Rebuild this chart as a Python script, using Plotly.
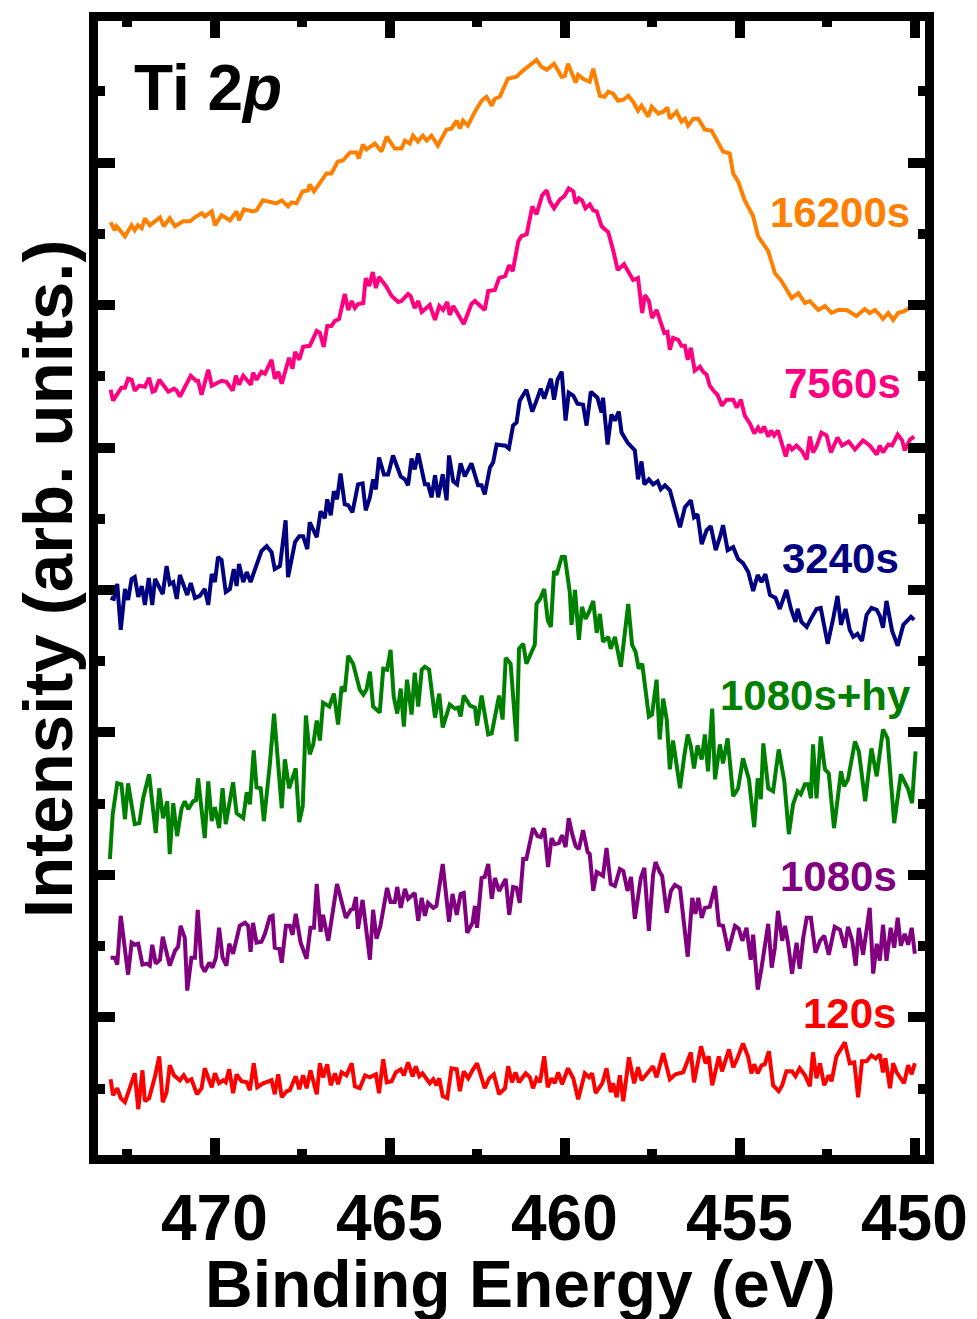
import plotly.graph_objects as go

# ---------------- data (binding energy in eV, intensity in arb. units) ----------------
e_16200 = [472.98,472.86,472.81,472.57,472.38,472.29,472.20,472.09,472.00,471.86,
           471.57,471.46,471.29,471.14,470.91,470.71,470.57,470.38,470.29,470.09,
           470.00,469.81,469.57,469.38,469.31,469.17,468.91,468.81,468.63,468.43,
           468.24,468.09,467.91,467.81,467.67,467.49,467.34,467.29,467.17,466.81,
           466.67,466.49,466.34,466.14,465.95,465.89,465.77,465.67,465.43,465.24,
           465.09,464.86,464.67,464.57,464.43,464.34,464.20,464.06,463.95,463.81,
           463.63,463.38,463.24,463.09,463.00,462.91,462.77,462.57,462.38,462.24,
           462.09,462.00,461.86,461.63,461.38,461.24,461.05,460.81,460.67,460.52,
           460.31,460.09,460.00,459.91,459.69,459.62,459.48,459.29,459.19,459.00,
           458.86,458.76,458.62,458.48,458.33,458.19,458.05,457.91,457.81,457.62,
           457.52,457.33,457.19,457.07,457.00,456.81,456.67,456.57,456.48,456.33,
           456.19,456.00,455.81,455.62,455.48,455.29,455.19,455.05,454.86,454.62,
           454.48,454.19,454.00,453.81,453.52,453.33,453.14,453.00,452.76,452.57,
           452.38,452.19,451.95,451.67,451.43,451.29,451.14,451.00,450.91,450.76,
           450.62,450.48,450.29,450.05]
i_16200 = [941,933,937,927,938,933,938,935,945,938,
           946,937,945,937,942,942,946,950,947,952,
           938,948,943,952,943,954,952,953,963,961,
           960,963,957,961,960,972,973,979,972,990,
           990,1002,1003,1011,1011,1005,1019,1014,1020,1012,
           1027,1015,1015,1023,1020,1028,1022,1028,1023,1028,
           1018,1034,1035,1043,1035,1043,1038,1052,1063,1067,
           1058,1065,1067,1085,1087,1092,1097,1104,1097,1094,
           1100,1087,1088,1100,1081,1089,1085,1082,1095,1068,
           1067,1072,1070,1063,1064,1068,1062,1053,1058,1047,
           1057,1050,1052,1056,1045,1052,1042,1045,1038,1045,
           1045,1034,1033,1022,1012,1010,990,982,963,947,
           927,912,890,882,865,870,860,862,853,857,
           850,853,853,847,854,850,853,848,844,850,
           843,850,852,857]

e_7560 = [472.98,472.91,472.67,472.57,472.48,472.38,472.29,472.16,472.00,471.88,
          471.78,471.71,471.59,471.33,471.17,471.09,471.00,470.69,470.54,470.48,
          470.38,470.19,470.09,469.81,469.67,469.49,469.40,469.31,469.19,468.97,
          468.91,468.81,468.67,468.57,468.38,468.29,468.19,468.09,467.88,467.78,
          467.71,467.59,467.48,467.29,467.09,467.00,466.89,466.79,466.67,466.57,
          466.45,466.29,466.19,466.09,466.00,465.91,465.76,465.69,465.59,465.49,
          465.40,465.31,465.11,464.95,464.76,464.67,464.48,464.41,464.29,464.19,
          464.09,463.86,463.71,463.59,463.48,463.36,463.29,463.19,462.89,462.67,
          462.57,462.29,462.19,462.00,461.88,461.71,461.59,461.49,461.33,461.24,
          461.09,460.93,460.81,460.65,460.52,460.43,460.31,460.14,460.02,459.89,
          459.76,459.69,459.60,459.51,459.41,459.29,459.19,459.09,458.95,458.76,
          458.62,458.49,458.31,458.05,457.91,457.79,457.71,457.60,457.51,457.38,
          457.16,457.07,457.00,456.91,456.76,456.67,456.57,456.49,456.40,456.29,
          456.14,456.05,455.95,455.86,455.73,455.64,455.51,455.38,455.19,455.09,
          454.97,454.86,454.71,454.59,454.48,454.40,454.31,454.19,454.11,454.02,
          453.91,453.81,453.69,453.60,453.51,453.38,453.22,453.09,453.00,452.91,
          452.81,452.67,452.52,452.40,452.21,452.08,451.89,451.71,451.48,451.29,
          451.09,451.00,450.91,450.76,450.65,450.49,450.36,450.29,450.14,450.02]
i_7560 = [773,762,775,775,784,783,772,777,776,785,
          771,772,783,771,774,772,766,787,782,782,
          768,793,777,782,781,772,787,778,787,778,
          790,783,791,789,803,784,791,779,805,794,
          811,803,816,817,832,830,816,837,837,842,
          844,869,853,862,855,859,860,885,877,891,
          875,886,877,867,861,862,869,867,855,862,
          851,858,843,857,853,861,848,857,839,859,
          862,853,872,873,885,887,898,892,922,927,
          929,957,949,968,973,962,955,964,967,975,
          972,960,965,963,955,959,953,952,937,931,
          913,893,899,883,885,850,868,862,845,853,
          830,831,813,825,823,817,817,803,815,792,
          796,791,788,777,771,768,757,763,763,755,
          763,747,739,729,735,730,736,726,732,727,
          732,721,706,718,713,717,711,703,726,710,
          716,730,727,710,725,717,721,713,722,717,
          708,717,710,718,717,728,722,712,723,726]

e_3240 = [472.98,472.89,472.79,472.69,472.57,472.48,472.38,472.29,472.19,472.09,
          472.00,471.89,471.79,471.71,471.49,471.38,471.29,471.19,471.09,471.00,
          470.79,470.69,470.57,470.43,470.29,470.19,470.09,470.00,469.91,469.81,
          469.69,469.57,469.46,469.38,469.31,469.19,469.09,468.98,468.67,468.52,
          468.38,468.29,468.14,467.98,467.91,467.71,467.59,467.48,467.36,467.29,
          467.09,466.98,466.86,466.79,466.69,466.60,466.51,466.41,466.29,466.19,
          466.07,465.91,465.78,465.69,465.57,465.48,465.40,465.31,465.17,465.05,
          464.91,464.69,464.57,464.48,464.38,464.29,464.19,464.00,463.91,463.81,
          463.71,463.62,463.49,463.38,463.31,463.19,463.08,462.98,462.86,462.67,
          462.48,462.38,462.29,462.14,462.05,461.95,461.76,461.71,461.60,461.48,
          461.38,461.29,461.10,460.93,460.78,460.69,460.59,460.40,460.31,460.21,
          460.09,459.98,459.89,459.76,459.64,459.48,459.38,459.26,459.07,458.95,
          458.91,458.78,458.67,458.57,458.46,458.38,458.21,458.00,457.91,457.81,
          457.73,457.60,457.48,457.35,457.26,457.14,457.00,456.86,456.71,456.57,
          456.40,456.31,456.21,456.09,455.95,455.83,455.69,455.57,455.48,455.35,
          455.19,455.05,454.91,454.76,454.62,454.49,454.38,454.27,454.14,453.98,
          453.86,453.67,453.54,453.41,453.35,453.24,453.09,452.97,452.81,452.69,
          452.49,452.33,452.21,452.11,451.98,451.86,451.76,451.64,451.51,451.38,
          451.24,451.09,451.00,450.91,450.81,450.65,450.49,450.33,450.19,450.11,
          450.02]
i_3240 = [564,563,578,532,573,562,583,585,565,576,
          557,584,557,583,568,596,578,580,563,587,
          567,579,564,566,573,557,588,580,605,602,
          570,573,593,576,598,580,590,580,611,616,
          610,593,596,642,585,620,626,626,613,640,
          625,651,644,663,647,671,663,689,658,657,
          650,678,679,652,665,683,673,705,688,688,
          707,686,683,677,704,693,709,678,678,665,
          687,665,688,662,707,681,678,699,686,699,
          677,677,668,695,700,718,717,717,714,737,
          740,762,773,751,765,774,764,784,763,783,
          791,742,770,767,759,758,737,771,765,750,
          765,718,748,742,751,730,720,712,683,701,
          678,683,678,681,673,677,672,655,635,655,
          662,645,648,618,632,636,612,625,637,612,
          615,603,599,590,571,587,580,588,567,564,
          553,572,553,540,553,540,535,543,553,554,
          518,544,566,537,553,532,525,528,521,547,
          554,552,546,534,561,531,516,537,542,545,
          542]

e_1080hy = [473.00,472.92,472.79,472.67,472.57,472.48,472.29,472.16,472.05,471.88,
            471.69,471.59,471.48,471.36,471.29,471.19,471.08,470.95,470.86,470.76,
            470.62,470.54,470.48,470.29,470.19,470.09,470.00,469.88,469.78,469.69,
            469.48,469.38,469.19,469.09,469.00,468.89,468.81,468.69,468.60,468.43,
            468.31,468.09,468.00,467.88,467.69,467.59,467.49,467.40,467.29,467.19,
            467.09,467.00,466.91,466.73,466.60,466.48,466.38,466.29,466.19,466.05,
            465.86,465.76,465.67,465.57,465.48,465.29,465.19,465.08,464.98,464.89,
            464.79,464.69,464.60,464.51,464.38,464.29,464.19,464.09,464.00,463.88,
            463.71,463.59,463.49,463.29,463.14,463.05,462.98,462.89,462.71,462.57,
            462.51,462.38,462.19,462.09,461.88,461.78,461.69,461.55,461.38,461.31,
            461.19,461.10,460.86,460.81,460.71,460.59,460.49,460.40,460.31,460.24,
            460.09,460.00,459.86,459.81,459.71,459.60,459.51,459.41,459.31,459.19,
            459.09,459.00,458.91,458.76,458.69,458.57,458.40,458.19,458.08,457.98,
            457.89,457.79,457.60,457.51,457.38,457.29,457.19,457.09,457.00,456.91,
            456.81,456.71,456.59,456.49,456.40,456.31,456.21,456.09,456.00,455.91,
            455.79,455.71,455.57,455.48,455.35,455.19,455.05,454.91,454.74,454.59,
            454.49,454.40,454.33,454.19,454.05,453.89,453.73,453.60,453.48,453.35,
            453.26,453.14,453.05,452.97,452.91,452.81,452.69,452.57,452.46,452.31,
            452.11,452.02,451.91,451.71,451.60,451.42,451.24,451.09,450.91,450.78,
            450.59,450.40,450.19,450.08,449.98]
i_1080hy = [302,347,378,377,342,378,337,338,363,387,
            328,373,343,360,307,358,325,353,360,352,
            360,361,383,323,380,340,354,333,373,337,
            379,348,343,369,357,411,374,373,340,397,
            448,353,402,373,393,339,355,446,407,417,
            441,421,459,455,468,437,475,470,506,498,
            472,467,472,490,455,449,493,492,512,465,
            448,473,435,482,447,489,455,492,495,492,
            444,468,434,457,453,454,445,466,456,454,
            436,466,427,428,466,442,504,498,420,513,
            518,498,517,558,563,573,542,535,591,587,
            605,605,570,537,572,522,555,543,550,561,
            529,548,520,525,513,525,495,558,517,510,
            493,498,445,447,482,422,463,442,392,421,
            397,373,405,427,415,393,416,402,427,390,
            453,382,417,398,423,365,373,403,382,334,
            383,362,418,373,370,412,380,327,357,370,
            367,377,377,363,417,363,425,392,388,333,
            390,375,382,420,410,360,413,385,432,423,
            338,387,372,358,410]

e_1080 = [472.98,472.86,472.79,472.69,472.48,472.38,472.29,472.19,472.07,471.95,
          471.86,471.79,471.69,471.57,471.49,471.29,471.14,471.05,470.98,470.86,
          470.79,470.67,470.57,470.49,470.38,470.29,470.16,470.07,469.97,469.88,
          469.78,469.67,469.59,469.48,469.29,469.14,469.05,468.98,468.91,468.81,
          468.67,468.57,468.43,468.35,468.29,468.16,468.09,467.97,467.86,467.78,
          467.69,467.55,467.38,467.27,467.17,467.09,466.98,466.91,466.76,466.62,
          466.51,466.26,466.12,466.05,465.97,465.91,465.78,465.57,465.48,465.38,
          465.27,465.08,464.98,464.86,464.79,464.69,464.57,464.48,464.29,464.19,
          464.09,464.00,463.91,463.76,463.67,463.49,463.31,463.21,463.09,462.98,
          462.89,462.79,462.64,462.57,462.51,462.38,462.29,462.19,462.09,462.00,
          461.88,461.69,461.59,461.48,461.38,461.29,461.19,461.10,460.91,460.78,
          460.69,460.59,460.48,460.38,460.29,460.17,460.08,459.98,459.89,459.79,
          459.69,459.60,459.48,459.35,459.29,459.19,459.09,458.91,458.81,458.69,
          458.57,458.43,458.33,458.21,458.11,458.00,457.83,457.73,457.60,457.48,
          457.41,457.29,457.22,457.09,456.97,456.86,456.71,456.49,456.36,456.27,
          456.19,456.09,456.00,455.86,455.71,455.60,455.48,455.33,455.14,455.03,
          454.93,454.81,454.69,454.62,454.49,454.38,454.19,454.09,454.00,453.91,
          453.79,453.71,453.62,453.51,453.38,453.29,453.19,453.09,452.97,452.84,
          452.71,452.59,452.46,452.29,452.14,452.00,451.91,451.79,451.69,451.60,
          451.48,451.29,451.19,451.09,451.00,450.91,450.81,450.69,450.59,450.49,
          450.40,450.29,450.19,450.09,450.00]
i_1080 = [203,203,196,245,186,218,216,217,196,197,
          195,216,197,201,224,195,210,214,235,223,
          170,203,203,251,195,189,198,193,203,233,
          203,195,217,207,235,238,235,209,238,218,
          219,227,244,245,213,212,198,235,235,226,
          247,218,202,233,233,277,229,246,220,252,
          277,243,251,252,264,232,261,201,251,222,
          235,273,259,259,274,253,272,262,268,240,
          263,245,258,253,255,297,239,267,246,267,
          268,228,238,255,233,283,284,297,262,283,
          270,282,246,274,273,258,302,302,333,325,
          324,333,294,323,317,318,326,314,343,327,
          315,312,331,309,307,270,289,285,313,277,
          275,292,290,270,284,242,283,293,230,286,
          299,289,285,248,270,276,273,204,263,247,
          263,243,253,254,275,236,235,210,235,232,
          220,233,201,226,171,193,237,193,213,250,
          220,235,217,187,218,192,223,243,243,208,
          220,225,206,234,231,213,234,220,195,233,
          206,253,187,217,200,236,200,233,213,243,
          215,227,216,233,207]

e_120 = [472.98,472.91,472.79,472.69,472.57,472.41,472.29,472.19,472.07,472.00,
         471.88,471.71,471.59,471.49,471.38,471.29,471.17,471.00,470.89,470.79,
         470.67,470.51,470.38,470.29,470.09,470.00,469.88,469.76,469.69,469.59,
         469.48,469.38,469.24,469.09,469.00,468.89,468.79,468.62,468.38,468.29,
         468.19,468.09,467.95,467.86,467.69,467.59,467.48,467.38,467.27,467.09,
         467.00,466.91,466.79,466.69,466.57,466.48,466.38,466.24,466.09,466.00,
         465.86,465.71,465.57,465.40,465.31,465.19,465.09,464.95,464.83,464.69,
         464.60,464.48,464.35,464.26,464.16,464.07,463.95,463.86,463.76,463.67,
         463.59,463.49,463.36,463.24,463.09,463.00,462.89,462.76,462.64,462.51,
         462.41,462.29,462.16,462.03,461.88,461.71,461.62,461.51,461.41,461.31,
         461.12,461.00,460.91,460.81,460.71,460.59,460.49,460.38,460.29,460.19,
         460.08,459.91,459.76,459.62,459.43,459.31,459.22,459.12,458.93,458.81,
         458.69,458.62,458.52,458.43,458.33,458.17,458.02,457.91,457.81,457.64,
         457.48,457.38,457.19,457.00,456.84,456.62,456.40,456.31,456.11,455.98,
         455.89,455.79,455.60,455.51,455.31,455.19,455.07,454.91,454.76,454.67,
         454.59,454.49,454.38,454.29,454.17,454.05,453.89,453.79,453.67,453.51,
         453.41,453.29,453.14,453.00,452.91,452.81,452.71,452.59,452.46,452.38,
         452.24,452.00,451.86,451.73,451.62,451.51,451.38,451.24,451.12,451.00,
         450.91,450.84,450.71,450.62,450.52,450.31,450.19,450.09,450.00]
i_120 = [81,65,72,62,58,75,87,51,90,59,
         62,84,104,58,68,95,85,80,85,79,
         81,66,72,92,73,87,77,80,78,91,
         67,86,79,78,70,97,73,77,80,66,
         86,63,69,70,84,71,85,72,90,66,
         97,83,96,75,87,76,88,85,97,74,
         72,85,83,86,67,101,78,79,88,91,
         85,98,84,94,84,87,82,77,81,75,
         82,64,62,92,91,69,89,82,90,97,
         86,72,82,86,66,72,94,78,88,78,
         87,83,72,82,78,104,73,82,77,88,
         76,92,82,61,87,83,87,67,77,92,
         68,77,63,85,59,103,77,93,80,87,
         94,83,107,81,86,88,108,78,114,97,
         104,75,104,89,111,93,102,117,103,87,
         96,87,95,96,109,75,69,75,89,89,
         84,92,85,74,108,82,97,75,85,79,
         104,118,97,98,63,99,99,105,102,106,
         88,102,72,97,88,77,95,86,97]

series_labels = ["16200s", "7560s", "3240s", "1080s+hy", "1080s", "120s"]
series_colors = ["#FF8000", "#FF0080", "#000080", "#008000", "#800080", "#FF0000"]
series_x = [e_16200, e_7560, e_3240, e_1080hy, e_1080, e_120]
series_y = [i_16200, i_7560, i_3240, i_1080hy, i_1080, i_120]
x_tick_values = [470, 465, 460, 455, 450]

# ---------------- figure ----------------
FONT = "Liberation Sans, Arial, Helvetica, sans-serif"
fig = go.Figure()
for xs, ys, col, name in zip(series_x, series_y, series_colors, series_labels):
    fig.add_trace(go.Scatter(x=xs, y=ys, mode="lines", name=name,
                             line=dict(color=col, width=4), hoverinfo="skip"))

W, H = 977, 1319
ML, MR, MT, MB = 98, 52, 17, 164
pw, ph = W - ML - MR, H - MT - MB

def px2paper(xp, yp):
    return (xp - ML) / pw, (H - MB - yp) / ph

annots = []
# series labels (right edge px, centre px)
label_pos = [(912, 209), (903, 381), (901, 556), (913, 694), (899, 876), (898, 1013)]
for (xp, yp), txt, col in zip(label_pos, series_labels, series_colors):
    ax, ay = px2paper(xp, yp)
    annots.append(dict(x=ax, y=ay, xref="paper", yref="paper", text="<b>%s</b>" % txt,
                       showarrow=False, xanchor="right", yanchor="middle",
                       font=dict(family=FONT, size=42, color=col)))
# x tick labels
_, ty = px2paper(0, 1218)
for v in x_tick_values:
    annots.append(dict(x=v, y=ty, xref="x", yref="paper", text="<b>%d</b>" % v,
                       showarrow=False, xanchor="center", yanchor="middle",
                       font=dict(family=FONT, size=64, color="black")))
ax, ay = px2paper(132, 84)
annots.append(dict(x=ax, y=ay, xref="paper", yref="paper", text="<b>Ti 2<i>p</i></b>",
                   showarrow=False, xanchor="left", yanchor="middle",
                   font=dict(family=FONT, size=64, color="black")))
ax, ay = px2paper(520, 1284)
annots.append(dict(x=ax, y=ay, xref="paper", yref="paper", text="<b>Binding Energy (eV)</b>",
                   showarrow=False, xanchor="center", yanchor="middle",
                   font=dict(family=FONT, size=66, color="black")))
ax, ay = px2paper(48, 577)
annots.append(dict(x=ax, y=ay, xref="paper", yref="paper", text="<b>Intensity (arb. units.)</b>",
                   showarrow=False, xanchor="center", yanchor="middle", textangle=-90,
                   font=dict(family=FONT, size=69, color="black")))

axis_common = dict(showline=True, linewidth=9, linecolor="black", mirror="ticks",
                   ticks="inside", ticklen=17, tickwidth=10, tickcolor="black",
                   showgrid=False, zeroline=False)

fig.update_layout(
    width=W, height=H, margin=dict(l=ML, r=MR, t=MT, b=MB),
    paper_bgcolor="white", plot_bgcolor="white", showlegend=False,
    xaxis=dict(range=[473.34, 449.71], tickmode="linear", tick0=450, dtick=5,
               showticklabels=False,
               minor=dict(ticks="inside", ticklen=6, tickwidth=10, tickcolor="black",
                          dtick=2.5, tick0=450, showgrid=False),
               **axis_common),
    yaxis=dict(range=[5, 1143], tickmode="linear", tick0=0, dtick=143,
               showticklabels=False,
               minor=dict(ticks="inside", ticklen=7, tickwidth=10, tickcolor="black",
                          dtick=71.5, tick0=0, showgrid=False),
               **axis_common),
    annotations=annots,
)

fig.write_html("out.html")
